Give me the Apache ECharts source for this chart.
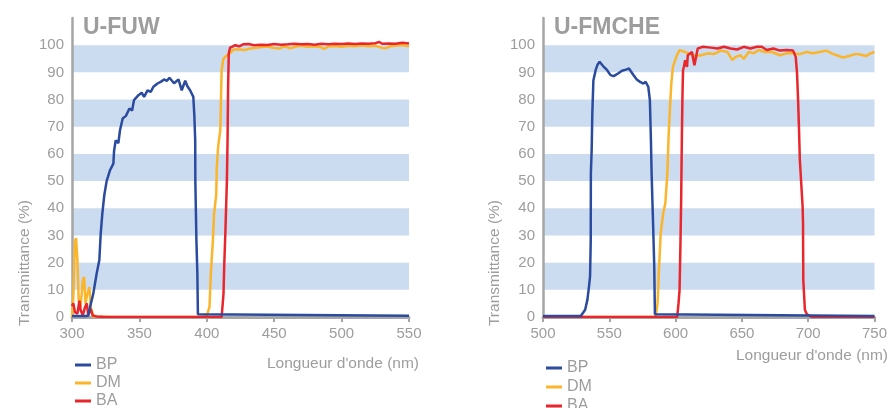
<!DOCTYPE html>
<html>
<head>
<meta charset="utf-8">
<script src="https://cdn.jsdelivr.net/npm/echarts@6/dist/echarts.min.js"></script>
<style>
  html, body { margin: 0; padding: 0; background: #fff; }
  #main { width: 890px; height: 408px; }
</style>
</head>
<body>
<div id="main"></div>
<script>
// 数据：透射率曲线 [波长 nm, 透射率 %]
var titles = ['U-FUW', 'U-FMCHE'];
var legendNames = ['BP', 'DM', 'BA'];
var xRangeFUW = [300, 550];
var xRangeFMCHE = [500, 750];

var fuwBP = [[300,0.4],[310,0.4],[312,0.5],[313.4,3.7],[315.8,8.6],[318.3,16],[320.3,21],[321.3,30.7],[322.5,38],[324,45],[325.7,50],[328.2,54],[330.7,56.4],[331.2,61],[332.4,65],[334.4,64],[335.6,68.7],[337.6,73],[340,74],[342.6,76.7],[344.6,76],[346,79.8],[349.3,81.6],[351.7,82.5],[353.5,81],[356,83.4],[358.4,82.8],[360.4,84.7],[363.4,85.9],[365.8,86.5],[368.3,87.4],[370.3,86.9],[372.3,88],[374,87],[375.7,86],[379,87.4],[381.4,83.4],[384,86.9],[385.6,84.9],[387.6,83.4],[390,81],[390.8,73.6],[391.4,65],[391.5,50],[392.3,28],[393,16],[393.4,1],[394,0.5],[550,0.5]];
var fuwDM = [[300,0],[301,7.4],[302.2,28],[303,29],[304,21],[305,6],[306.4,3.7],[308,13.5],[309,14.7],[310,5],[311.4,8.6],[312.9,11],[313.9,3.7],[315.8,0.2],[330,0],[397.5,0],[400,0.5],[402,3.7],[403,16],[404.5,28],[405.4,38],[407,45],[407.4,55],[408.4,62.6],[410,68.7],[410.4,77],[411,90.8],[412.3,95],[414.3,96],[416,96.5],[419.8,98.4],[424.7,98.4],[428,98.2],[432,98.8],[436,99],[440,99.3],[445,99.5],[450,99],[454,98.8],[458,99.6],[462,98.8],[466,99.5],[470,99.8],[475,99.4],[480,99.6],[485,99.2],[487,98.6],[490,99.5],[495,99.7],[500,99.4],[505,99.8],[510,99.6],[515,99.9],[520,99.6],[525,99.8],[530,99],[533,98.9],[536,99.6],[540,99.8],[545,100.1],[550,99.6]];
var fuwBA = [[300,4],[301,5],[302.2,1.8],[304,1.2],[305.5,6],[306.4,2.5],[308,0.6],[309.7,3.7],[311,5],[312,0.6],[313.9,3],[315.3,0.6],[318.3,0.2],[325,0],[411,0],[412.4,8.6],[412.9,18.4],[413.9,33],[414.9,50],[415.4,65],[415.8,84.7],[416.3,97],[417.3,99.1],[419,99.5],[421,100],[424,99.6],[427,100.3],[431,100.4],[435,100],[440,100.2],[445,100.1],[450,100.4],[455,100.2],[460,100.3],[465,100.5],[470,100.3],[475,100.4],[480,100.2],[485,100.5],[490,100.3],[495,100.5],[500,100.4],[505,100.6],[510,100.4],[515,100.6],[520,100.5],[525,100.7],[528,101.2],[530,100.5],[535,100.6],[540,100.5],[545,100.9],[550,100.6]];

var fmcheBP = [[500,0.4],[528.5,0.4],[529.8,0.5],[531.8,2.7],[533.5,6.4],[534.7,11.3],[535.5,15],[536,28],[536.1,53],[536.7,61.4],[537.2,75],[538,87],[539.7,90.8],[541,92.7],[542.7,93.9],[544.2,93.3],[545.9,92],[548.4,90.8],[550.9,89],[553.3,88.6],[556.6,89.6],[559.6,90.6],[562.5,91],[565,91.4],[566.5,90.2],[568.2,89],[570.7,87.4],[573.2,86.5],[575.7,85.9],[577.4,86.5],[579.4,84.7],[580.6,79.8],[581.4,65],[581.9,53],[583.1,33],[583.9,18.6],[584.4,1],[585,0.4],[750,0.4]];
var fmcheDM = [[500,0],[584.9,0],[586.4,5],[587.3,16],[588.8,31],[590.6,38],[592.3,42],[593.8,53],[594.8,67.6],[595.8,77.4],[596.8,86],[598,92],[600.5,95.7],[603,98.2],[606.7,97.6],[609.2,97],[611.8,96.7],[615,96],[619.2,96.3],[624.2,97],[629.2,96.8],[634.1,98],[639.1,97.5],[642.8,94.5],[645.3,95.7],[649,96.3],[651.5,95],[655.2,97.5],[659,97],[662.6,98.2],[667.6,97.5],[672.6,97.5],[678.8,96.3],[683.8,97],[688.7,97],[693.7,96.7],[698.7,97.5],[703.7,97],[708.6,97.5],[713.6,98],[718.6,96.8],[722,96.2],[726,95.5],[731,96],[736,96.8],[740,96.5],[743.5,96],[747,97],[750,97.5]];
var fmcheBA = [[500,0],[601.2,0],[602.2,5],[603,10],[603.7,28],[604.2,43],[604.7,65],[605.2,82],[605.6,90.8],[606.2,92],[607.2,94.5],[608,93.9],[608.6,92],[609.2,96.3],[610.5,96.9],[612.3,97.5],[614.2,92.6],[616.7,98.8],[620.4,99.4],[626.6,99.1],[631.6,98.8],[636.5,99.4],[641.5,98.8],[646.4,98.4],[651.4,99.4],[656.4,98.8],[661.3,99.4],[665,99.4],[668.8,98.2],[673.7,98.8],[678.7,98],[683.7,98.2],[688.6,98],[690.6,95.7],[691.6,89.6],[692.3,81],[693.1,68.7],[693.7,57.8],[695.8,40.6],[696.1,34.6],[696.3,13.7],[697.5,2.7],[699,1],[701.2,0.4],[703,0],[750,0]];

var grey = '#9d9d9d';
var axisGrey = '#a6a6a6';
var font = 'Liberation Sans, Arial, Helvetica, sans-serif';
var colors = { BP: '#2b4b9f', DM: '#fbb52a', BA: '#e8262b' };

var myChart = echarts.init(document.getElementById('main'));

function xAxisOf(idx, range) {
    return {
        type: 'value',
        gridIndex: idx,
        min: range[0],
        max: range[1],
        interval: 50,
        axisLine: { lineStyle: { color: axisGrey, width: 3 } },
        axisTick: { show: true, length: 5, lineStyle: { color: axisGrey, width: 2 } },
        axisLabel: { color: grey, fontSize: 15, fontFamily: font, margin: 9 },
        splitLine: { show: false }
    };
}
function yAxisOf(idx) {
    return {
        type: 'value',
        gridIndex: idx,
        min: 0,
        max: 110,
        interval: 10,
        axisLine: { show: true, lineStyle: { color: axisGrey, width: 2.5 } },
        axisTick: { show: false },
        axisLabel: {
            color: grey, fontSize: 15, fontFamily: font, margin: 8,
            formatter: function (v) { return v > 100 ? '' : v; }
        },
        splitLine: { show: false },
        splitArea: { show: true, areaStyle: { color: ['rgba(255,255,255,0)', '#cbdbf0'] } }
    };
}
function lineOf(name, data, idx) {
    return {
        name: name,
        type: 'line',
        xAxisIndex: idx,
        yAxisIndex: idx,
        data: data,
        showSymbol: false,
        symbol: 'none',
        animation: false,
        lineStyle: { color: colors[name], width: 2.5 },
        itemStyle: { color: colors[name] }
    };
}
function legendOf(left, top, gap) {
    return {
        data: legendNames,
        orient: 'vertical',
        left: left,
        top: top,
        height: 90,
        padding: 0,
        icon: 'rect',
        itemWidth: 16,
        itemHeight: 3,
        itemGap: gap,
        textStyle: { color: grey, fontSize: 16, fontFamily: font, lineHeight: 14 }
    };
}
function textOf(text, x, y, rot, align) {
    return {
        type: 'text',
        x: x,
        y: y,
        rotation: rot,
        style: {
            text: text,
            fill: grey,
            font: '15.5px ' + font,
            textAlign: align,
            textVerticalAlign: 'middle'
        }
    };
}

option = {
    animation: false,
    title: [
        { text: titles[0], left: 78, top: 11, textStyle: { color: grey, fontSize: 23, fontWeight: 'bold', fontFamily: font } },
        { text: titles[1], left: 549, top: 11, textStyle: { color: grey, fontSize: 23, fontWeight: 'bold', fontFamily: font } }
    ],
    grid: [
        { left: 72, right: 481, top: 18, bottom: 91 },
        { left: 543, right: 11, top: 18, bottom: 91 }
    ],
    xAxis: [xAxisOf(0, xRangeFUW), xAxisOf(1, xRangeFMCHE)],
    yAxis: [yAxisOf(0), yAxisOf(1)],
    legend: [legendOf(75, 357, 2), legendOf(546, 360, 3)],
    graphic: [
        textOf('Transmittance (%)', 25, 263, Math.PI / 2, 'center'),
        textOf('Transmittance (%)', 495, 263, Math.PI / 2, 'center'),
        textOf("Longueur d'onde (nm)", 419, 364, 0, 'right'),
        textOf("Longueur d'onde (nm)", 888, 356, 0, 'right')
    ],
    series: [
        lineOf('DM', fuwDM, 0),
        lineOf('BA', fuwBA, 0),
        lineOf('BP', fuwBP, 0),
        lineOf('DM', fmcheDM, 1),
        lineOf('BA', fmcheBA, 1),
        lineOf('BP', fmcheBP, 1)
    ]
};
myChart.setOption(option);
</script>
</body>
</html>
